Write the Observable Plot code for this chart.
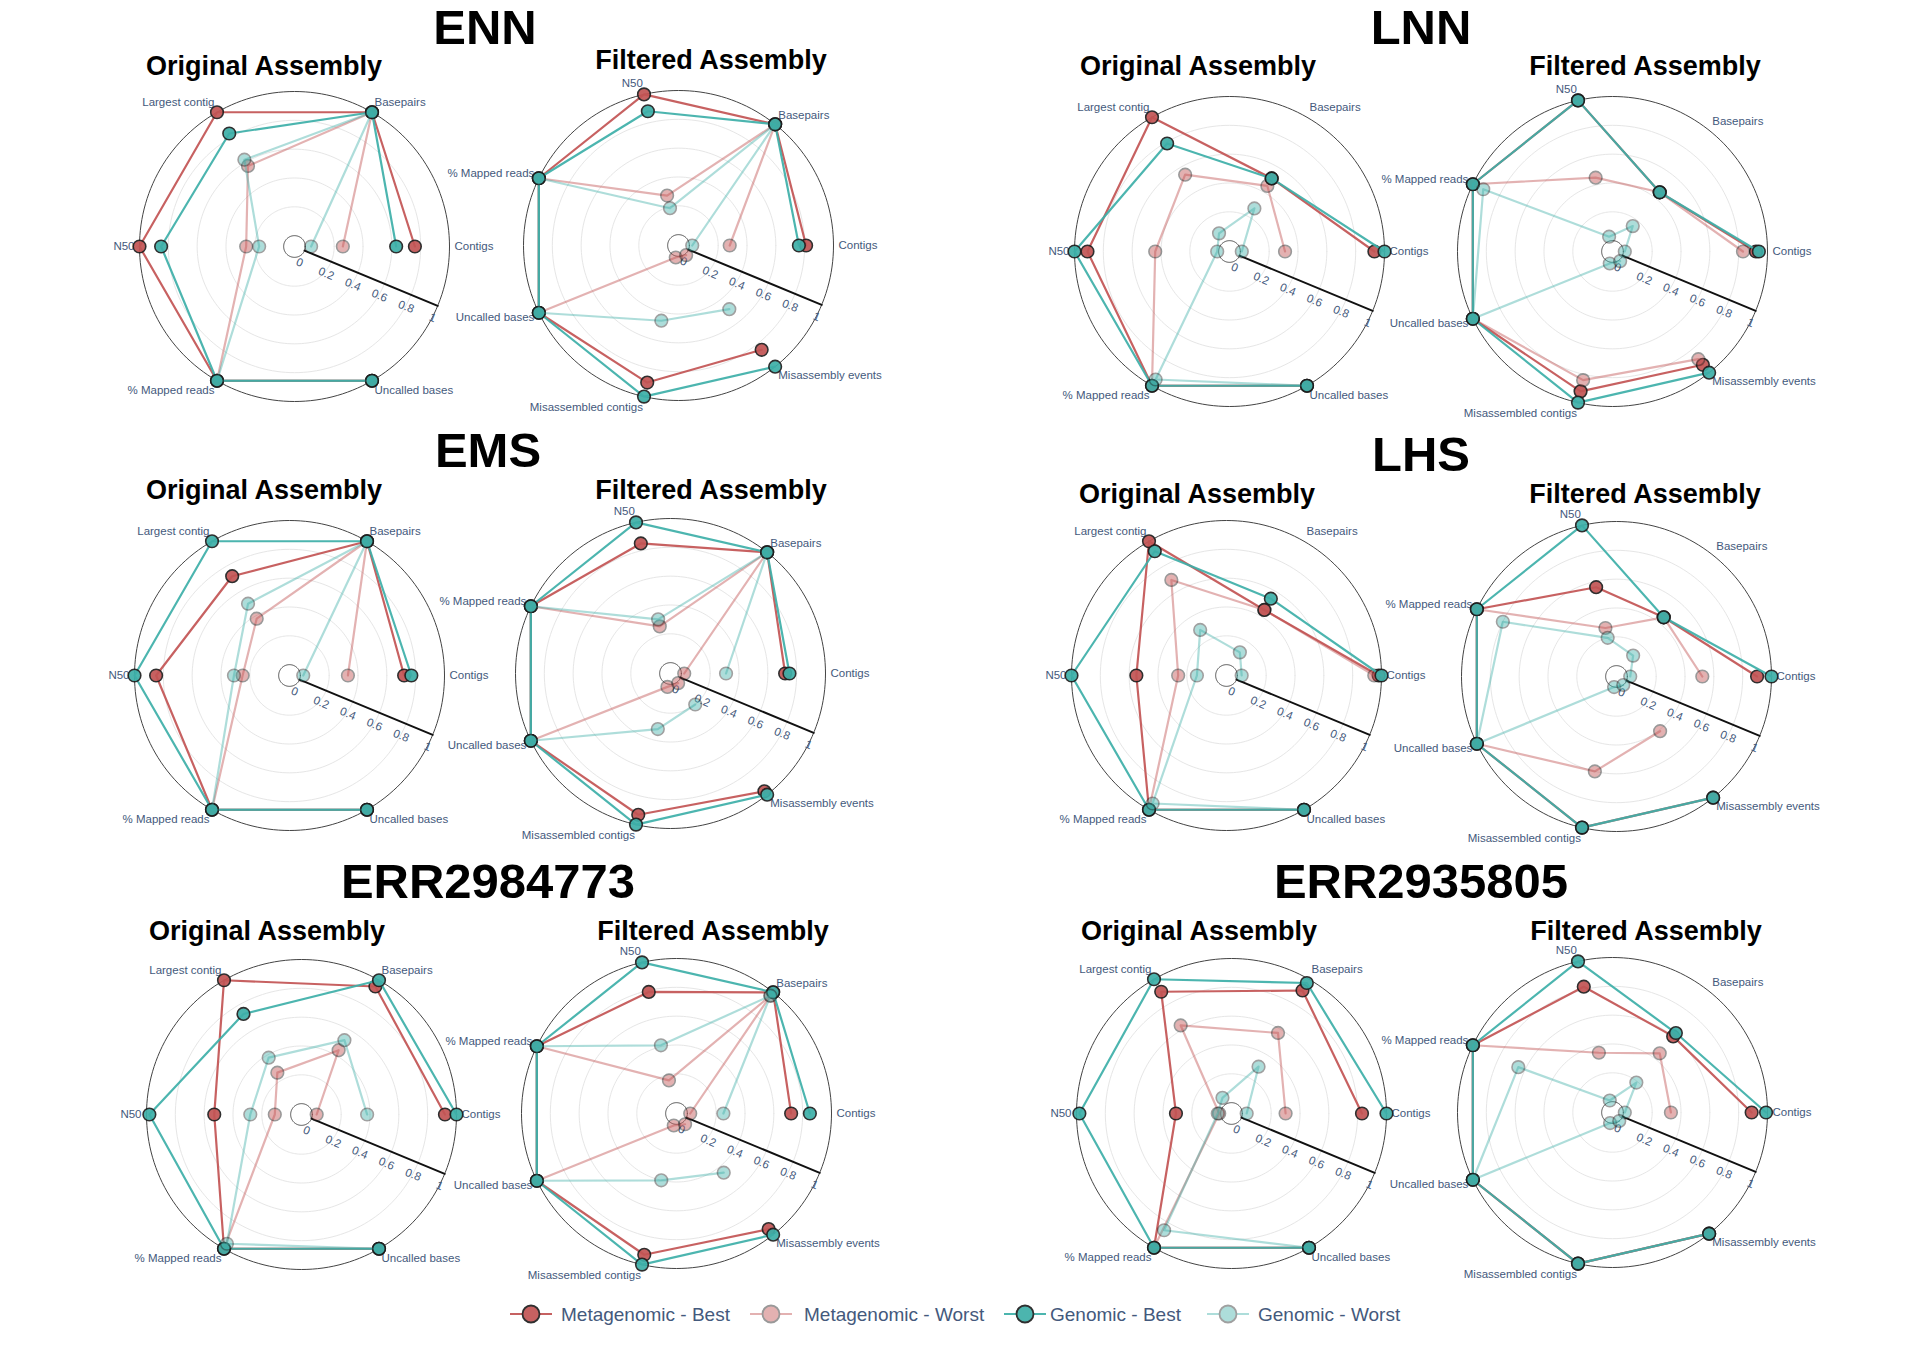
<!DOCTYPE html>
<html>
<head>
<meta charset="utf-8">
<script src="https://cdn.jsdelivr.net/npm/d3@7"></script>
<script src="https://cdn.jsdelivr.net/npm/@observablehq/plot@0.6"></script>
<style>
  html, body { margin: 0; padding: 0; background: #fff; }
  body { width: 1909px; height: 1350px; position: relative; overflow: hidden; font-family: "Liberation Sans", Arial, sans-serif; }
  .panel { position: absolute; }
  #overlay { position: absolute; left: 0; top: 0; }
</style>
</head>
<body>
<svg id="overlay" width="1909" height="1350"></svg>
<script>
// ---------------- DATA ----------------
const originalAxes = ["Contigs", "Basepairs", "Largest contig", "N50", "% Mapped reads", "Uncalled bases"];
const filteredAxes = ["Contigs", "Basepairs", "N50", "% Mapped reads", "Uncalled bases", "Misassembled contigs", "Misassembly events"];
const seriesNames = ["Metagenomic - Best", "Metagenomic - Worst", "Genomic - Best", "Genomic - Worst"];
const radialTicks = [0, 0.2, 0.4, 0.6, 0.8, 1];
const radialGrid = [0.2, 0.4, 0.6, 0.8];
const samples = ["ENN", "LNN", "EMS", "LHS", "ERR2984773", "ERR2935805"];

// rows follow seriesNames; columns follow originalAxes / filteredAxes
const ENN_original = [
  [0.76, 1, 1.00, 1.00, 1, 1],
  [0.26, 1, 0.57, 0.26, 1, 1],
  [0.63, 1, 0.83, 0.85, 1, 1],
  [0.04, 1, 0.62, 0.17, 1, 1]
];
const ENN_filtered = [
  [0.81, 1, 1.00, 1, 1, 0.90, 0.85],
  [0.28, 1, 0.28, 1, 1, 0.01, 0.01],
  [0.76, 1, 0.88, 1, 1, 1.00, 1.00],
  [0.02, 1, 0.19, 1, 1, 0.46, 0.49]
];
const LNN_original = [
  [0.93, 0.51, 1.00, 0.91, 1, 1],
  [0.31, 0.45, 0.54, 0.44, 1, 1],
  [1.00, 0.51, 0.79, 1.00, 1, 1],
  [0.01, 0.27, 0.07, 0.01, 0.95, 1]
];
const LNN_filtered = [
  [0.92, 0.45, 1, 1, 1, 0.92, 0.93],
  [0.83, 0.45, 0.45, 1, 1, 0.84, 0.88],
  [0.94, 0.45, 1, 1, 1, 1, 1],
  [0.01, 0.15, 0.03, 0.92, 1, 0.01, 0.01]
];
const EMS_original = [
  [0.72, 1, 0.72, 0.85, 1, 1],
  [0.33, 1, 0.38, 0.25, 1, 1],
  [0.77, 1, 1.00, 1.00, 1, 1],
  [0.02, 1, 0.50, 0.31, 1, 1]
];
const EMS_filtered = [
  [0.72, 1, 0.85, 1, 1, 0.93, 0.97],
  [0.02, 1, 0.26, 1, 1, 0.02, 0.01],
  [0.75, 1, 1.00, 1, 1, 1.00, 1.00],
  [0.31, 1, 0.31, 1, 1, 0.32, 0.20]
];
const LHS_original = [
  [0.98, 0.45, 1.00, 0.55, 1, 1],
  [0.95, 0.45, 0.69, 0.26, 1, 1],
  [1.00, 0.54, 0.92, 1.00, 1, 1],
  [0.03, 0.11, 0.29, 0.13, 0.95, 1]
];
const LHS_filtered = [
  [0.90, 0.45, 0.56, 1, 1, 1, 1],
  [0.52, 0.45, 0.27, 1, 1, 0.60, 0.41],
  [1.00, 0.45, 1.00, 1, 1, 1, 1],
  [0.02, 0.11, 0.20, 0.80, 1, 0.00, 0.00]
];
const ERR2984773_original = [
  [0.92, 0.95, 1.00, 0.53, 1, 1],
  [0.03, 0.44, 0.26, 0.11, 1, 1],
  [1.00, 1.00, 0.73, 0.98, 1, 1],
  [0.38, 0.52, 0.38, 0.28, 0.96, 1]
];
const ERR2984773_filtered = [
  [0.72, 1, 0.79, 1, 1, 0.93, 0.95],
  [0.02, 0.97, 0.16, 1, 1, 0.01, 0.02],
  [0.85, 1, 1.00, 1, 1, 1.00, 1.00],
  [0.25, 0.97, 0.41, 1, 1, 0.40, 0.45]
];
const ERR2935805_original = [
  [0.83, 0.91, 0.90, 0.31, 1, 1],
  [0.30, 0.57, 0.63, 0.01, 1, 1],
  [1.00, 0.97, 1.00, 0.98, 1, 1],
  [0.03, 0.30, 0.05, 0.02, 0.86, 1]
];
const ERR2935805_filtered = [
  [0.89, 0.60, 0.82, 1, 1, 1, 1],
  [0.33, 0.45, 0.35, 1, 1, 1, 1],
  [0.99, 0.63, 1.00, 1, 1, 1, 1],
  [0.01, 0.19, 0.01, 0.65, 1, 0.00, 0.00]
];

// ---------------- STYLE / LAYOUT ----------------
const seriesColors = ["#c25454", "#c25454", "#3dafa8", "#3dafa8"];
const seriesOpacity = [0.92, 0.45, 0.92, 0.42];
const labelColor = "#44597c";
const R = 155;          // outer radius in px
const hole = 0.07;      // hole fraction
const axisDeg = -22.5;  // radial axis direction
const W = 640, H = 420;

const panels = [
  {data: ENN_original, axes: originalAxes, cx: 294, cy: 246},
  {data: ENN_filtered, axes: filteredAxes, cx: 678, cy: 245},
  {data: LNN_original, axes: originalAxes, cx: 1229, cy: 251},
  {data: LNN_filtered, axes: filteredAxes, cx: 1612, cy: 251},
  {data: EMS_original, axes: originalAxes, cx: 289, cy: 675},
  {data: EMS_filtered, axes: filteredAxes, cx: 670, cy: 673},
  {data: LHS_original, axes: originalAxes, cx: 1226, cy: 675},
  {data: LHS_filtered, axes: filteredAxes, cx: 1616, cy: 676},
  {data: ERR2984773_original, axes: originalAxes, cx: 301, cy: 1114},
  {data: ERR2984773_filtered, axes: filteredAxes, cx: 676, cy: 1113},
  {data: ERR2935805_original, axes: originalAxes, cx: 1231, cy: 1113},
  {data: ERR2935805_filtered, axes: filteredAxes, cx: 1612, cy: 1112}
];
const titlePos = [[485, 44], [1421, 44], [488, 467], [1421, 471], [488, 898], [1421, 898]];
const subtitlePos = [
  [264, 75, 711, 69], [1198, 75, 1645, 75],
  [264, 499, 711, 499], [1197, 503, 1645, 503],
  [267, 940, 713, 940], [1199, 940, 1646, 940]
];

// ---------------- DRAW ----------------
const rho = v => hole + v * (1 - hole);
const fmt = v => (v === 0 || v === 1) ? String(v) : d3.format(".1f")(v);

function radar(axes, rows) {
  const n = axes.length;
  const theta = axes.map((_, i) => 2 * Math.PI * i / n);
  const pts = [];
  rows.forEach((vals, s) => vals.forEach((v, i) => pts.push({
    s, v, axis: axes[i],
    x: rho(v) * Math.cos(theta[i]),
    y: rho(v) * Math.sin(theta[i])
  })));
  const circ = v => d3.range(0, 361, 2).map(a => ({
    v, x: rho(v) * Math.cos(a * Math.PI / 180), y: rho(v) * Math.sin(a * Math.PI / 180)
  }));
  const grid = radialGrid.flatMap(circ);
  const ta = axisDeg * Math.PI / 180;
  const axisLine = [0, 1].map(v => ({x: rho(v) * Math.cos(ta), y: rho(v) * Math.sin(ta)}));
  const off = 13 / R;
  const ticks = radialTicks.map(v => ({
    label: fmt(v),
    x: rho(v) * Math.cos(ta) + off * Math.sin(ta),
    y: rho(v) * Math.sin(ta) - off * Math.cos(ta)
  }));
  const labels = axes.map((name, i) => {
    const c = Math.cos(theta[i]), s = Math.sin(theta[i]);
    const r1 = 1 + 5 / R;
    return {name, x: r1 * c, y: r1 * s + (6 / R) * s,
      anchor: Math.abs(c) < 0.1 ? "middle" : (c > 0 ? "start" : "end")};
  });

  const marks = [
    Plot.line(grid, {x: "x", y: "y", z: "v", stroke: "#e6e6e6", strokeWidth: 1}),
    Plot.line(circ(1), {x: "x", y: "y", stroke: "#444", strokeWidth: 1}),
    Plot.line(circ(0), {x: "x", y: "y", stroke: "#444", strokeWidth: 1}),
    Plot.line(axisLine, {x: "x", y: "y", stroke: "#111", strokeWidth: 2}),
    Plot.text(ticks, {x: "x", y: "y", text: "label", rotate: -axisDeg, fill: labelColor, fontSize: 11.5}),
    ...["start", "end", "middle"].map(a => Plot.text(labels.filter(d => d.anchor === a), {
      x: "x", y: "y", text: "name", textAnchor: a, fill: labelColor, fontSize: 11.5
    }))
  ];
  seriesNames.forEach((name, s) => {
    const sp = pts.filter(d => d.s === s);
    marks.push(Plot.line(sp, {x: "x", y: "y", stroke: seriesColors[s], strokeWidth: 2.2, opacity: seriesOpacity[s]}));
    marks.push(Plot.dot(sp, {x: "x", y: "y", r: 6.3, fill: seriesColors[s], stroke: "#1e1e1e",
      strokeWidth: 1.6, opacity: seriesOpacity[s]}));
  });

  return Plot.plot({
    width: W, height: H, margin: 0,
    x: {domain: [-W / 2 / R, W / 2 / R], axis: null},
    y: {domain: [-H / 2 / R, H / 2 / R], axis: null},
    style: {background: "transparent", overflow: "visible", fontFamily: "'Liberation Sans', Arial, sans-serif"},
    marks
  });
}

panels.forEach(p => {
  const div = document.createElement("div");
  div.className = "panel";
  div.style.left = (p.cx - W / 2) + "px";
  div.style.top = (p.cy - H / 2) + "px";
  div.style.width = W + "px";
  div.style.height = H + "px";
  div.appendChild(radar(p.axes, p.data));
  document.body.appendChild(div);
});

// titles, subtitles, legend
const ov = d3.select("#overlay");
samples.forEach((name, i) => {
  ov.append("text").attr("x", titlePos[i][0]).attr("y", titlePos[i][1])
    .attr("text-anchor", "middle").attr("font-size", 49).attr("font-weight", "bold")
    .attr("font-family", "'Liberation Sans', Arial, sans-serif").attr("fill", "#000").text(name);
  const sp = subtitlePos[i];
  ov.append("text").attr("x", sp[0]).attr("y", sp[1]).attr("text-anchor", "middle")
    .attr("font-size", 27).attr("font-weight", "bold").attr("font-family", "'Liberation Sans', Arial, sans-serif")
    .text("Original Assembly");
  ov.append("text").attr("x", sp[2]).attr("y", sp[3]).attr("text-anchor", "middle")
    .attr("font-size", 27).attr("font-weight", "bold").attr("font-family", "'Liberation Sans', Arial, sans-serif")
    .text("Filtered Assembly");
});
const legSym = [531, 771, 1025, 1228];
const legText = [561, 804, 1050, 1258];
const legY = 1314;
seriesNames.forEach((name, s) => {
  const g = ov.append("g").attr("opacity", seriesOpacity[s]);
  g.append("line").attr("x1", legSym[s] - 21).attr("x2", legSym[s] + 21).attr("y1", legY).attr("y2", legY)
    .attr("stroke", seriesColors[s]).attr("stroke-width", 2.2);
  g.append("circle").attr("cx", legSym[s]).attr("cy", legY).attr("r", 8.5)
    .attr("fill", seriesColors[s]).attr("stroke", "#1e1e1e").attr("stroke-width", 1.8);
  ov.append("text").attr("x", legText[s]).attr("y", legY).attr("dy", "0.35em")
    .attr("font-size", 19).attr("font-family", "'Liberation Sans', Arial, sans-serif")
    .attr("fill", labelColor).text(name);
});
document.body.appendChild(document.getElementById("overlay"));
</script>
</body>
</html>
